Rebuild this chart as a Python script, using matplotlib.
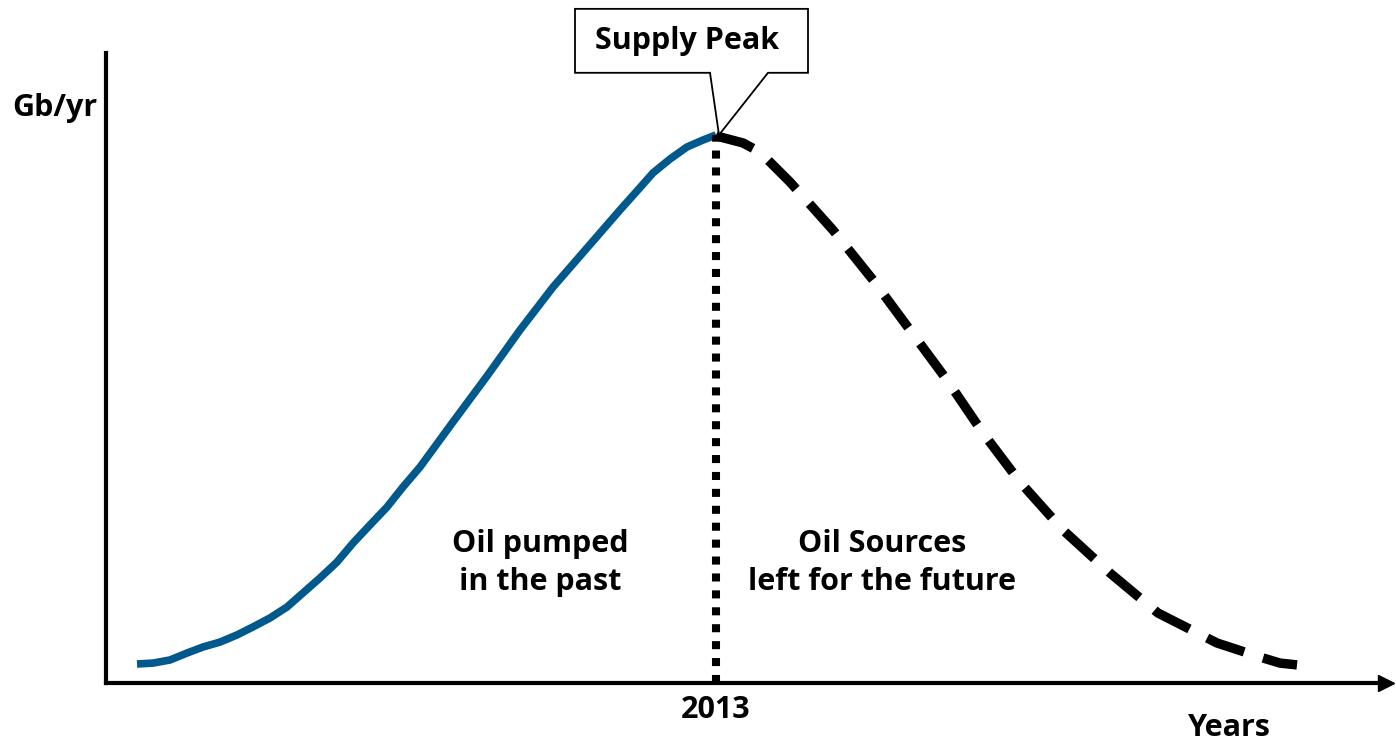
import matplotlib.pyplot as plt
from matplotlib.patches import Polygon

# production curve (years, Gb/yr)
past_years = [1955.1, 1956.7, 1958.4, 1960.1, 1961.7, 1963.4, 1965.1, 1966.7, 1968.4,
              1970.1, 1971.7, 1973.4, 1975.1, 1976.7, 1978.4, 1980.1, 1981.7, 1983.4,
              1986.7, 1990.1, 1993.4, 1996.7, 2000.1, 2003.4, 2005.1, 2006.7, 2008.4,
              2010.1, 2011.7, 2013]
past_gb = [1.04, 1.09, 1.26, 1.64, 1.97, 2.24, 2.63, 3.07, 3.56,
           4.16, 4.93, 5.75, 6.62, 7.66, 8.65, 9.63, 10.73, 11.82,
           14.29, 16.80, 19.32, 21.67, 23.81, 25.89, 26.93, 27.92, 28.68,
           29.34, 29.72, 30.0]

future_years = [2013, 2013.4, 2015.7, 2017.4, 2020.4, 2024.7, 2028.7, 2032.4, 2036.1,
                2039.7, 2043.4, 2047.7, 2052.4, 2057.2, 2063.1, 2067.4, 2069.4, 2071.1]
future_gb = [30.0, 29.89, 29.56, 29.06, 27.42, 24.79, 22.06, 19.32, 16.58,
             13.68, 11.00, 8.37, 6.02, 3.83, 2.19, 1.42, 1.09, 0.99]

peak_label = '2013'
past_text = 'Oil pumped\nin the past'
future_text = 'Oil Sources\nleft for the future'

plt.rcParams['font.family'] = ['Open Sans', 'DejaVu Sans']
plt.rcParams['font.weight'] = 'bold'
FS = 22

fig = plt.figure(figsize=(13.96, 7.44), dpi=100)
ax = fig.add_axes([106 / 1396, 61 / 744, 1280 / 1396, 630.3 / 744])
ax.set_xlim(1952, 2080)
ax.set_ylim(0, 34.5)

for side in ['top', 'right']:
    ax.spines[side].set_visible(False)
for side in ['left', 'bottom']:
    ax.spines[side].set_linewidth(3)
    ax.spines[side].set_color('black')
ax.plot(1, 0, '>k', ms=11, transform=ax.get_yaxis_transform(), clip_on=False)
ax.plot(0, 1, '^k', ms=11, transform=ax.get_xaxis_transform(), clip_on=False)

ax.plot(past_years, past_gb, color='#00598c', lw=5.5, solid_capstyle='butt',
        solid_joinstyle='round', zorder=2)
ax.plot(future_years, future_gb, color='black', lw=6.8, linestyle=(0, (4.2, 2.1)),
        dash_joinstyle='round', zorder=2)

peak_x, peak_y = past_years[-1], past_gb[-1]
ax.vlines(peak_x, 0, peak_y, colors='black', lw=5.8, linestyles=[(0, (1, 1.1))], zorder=3)

ax.set_xticks([peak_x])
ax.set_xticklabels([peak_label], fontsize=FS, fontweight='bold')
ax.tick_params(axis='x', length=0, pad=9)
ax.set_yticks([])

ax.text(1995.4, 6.55, past_text, ha='center', va='center', fontsize=FS,
        fontweight='bold', linespacing=1.36)
ax.text(2029.6, 6.55, future_text, ha='center', va='center', fontsize=FS,
        fontweight='bold', linespacing=1.36)

# callout box pointing at the peak
top, bottom = peak_y + 6.9, peak_y + 3.4
callout = Polygon([(peak_x - 14.1, top), (peak_x + 9.2, top), (peak_x + 9.2, bottom),
                   (peak_x + 5.2, bottom), (peak_x + 0.3, peak_y), (peak_x - 0.6, bottom),
                   (peak_x - 14.1, bottom)],
                  closed=True, facecolor='white', edgecolor='black', lw=1.3,
                  clip_on=False, zorder=4)
ax.add_patch(callout)
ax.text(peak_x - 2.85, (top + bottom) / 2, 'Supply Peak', ha='center', va='center',
        fontsize=FS, fontweight='bold', zorder=5)

fig.text(55 / 1396, 1 - 108 / 744, 'Gb/yr', ha='center', va='center', fontsize=FS,
         fontweight='bold')
fig.text(1229 / 1396, 1 - 728 / 744, 'Years', ha='center', va='center', fontsize=FS,
         fontweight='bold')

fig.savefig('out.png', dpi=100)
